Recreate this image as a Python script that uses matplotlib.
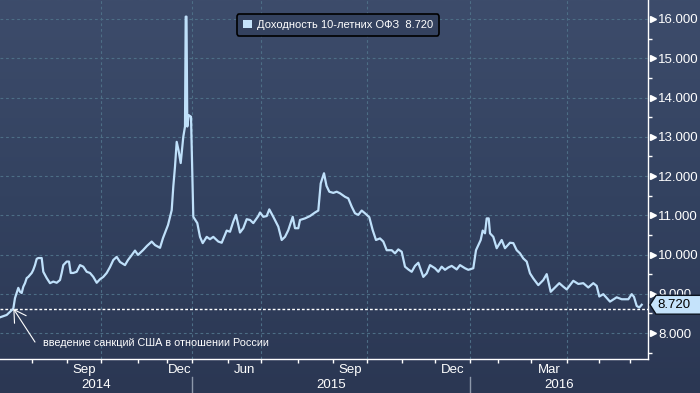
import matplotlib
matplotlib.use('Agg')
import matplotlib.pyplot as plt
import matplotlib.transforms as mtrans
from matplotlib.patches import Polygon, Patch
from matplotlib.colors import LinearSegmentedColormap
import numpy as np

plt.rcParams['font.family'] = ['Liberation Sans', 'DejaVu Sans']

# ---- data (time index along the chart axis, yield in %) ----
t = [0, 6.7, 10, 13.3, 15, 16.7, 18.3, 20, 21.7, 23.3, 25, 26.7, 28.3, 30, 31.7, 33.3, 35, 36.7, 38.3, 41.7,
     43.3, 46.7, 50, 53.3, 56.7, 60, 61.7, 63.3, 66.7, 69, 70.7, 73.3, 76.7, 80, 83.3, 86.7, 90, 93.3, 96.7, 100,
     103.3, 106.7, 110, 113.3, 116.7, 120, 125, 128, 131, 135, 138, 143, 147, 151.7, 155, 160, 163, 168, 171.7, 173.3,
     175, 176.7, 178.5, 180.7, 182, 183.3, 185, 185.7, 186.5, 187.3, 188.7, 191, 193.3, 197.3, 200, 202.7, 206.7, 210, 213.3, 218.3,
     221.7, 226.7, 230, 233.3, 236, 240, 243.3, 246.7, 250, 253.3, 258.3, 260, 263.3, 266.7, 269.3, 273.3, 278.3, 281.7, 285, 288.3,
     292.7, 295, 298.3, 300, 305, 310, 315, 318.3, 320.7, 324, 326.5, 329.3, 333.3, 336.7, 340, 345, 348.3, 351.7, 355, 358.3,
     361.7, 365, 369.3, 372.7, 376, 380, 383.3, 386.7, 391.7, 395, 398.3, 401.7, 405, 408.3, 411.7, 415, 418.3, 423.3, 426.7, 430,
     435, 438.3, 441.7, 445, 448.3, 451.7, 456.7, 460, 465, 468.3, 473.3, 476, 478.3, 480.7, 482.7, 485, 486.7, 488.7, 490, 493.3,
     496.7, 501.7, 505, 510, 513.3, 516.7, 520, 523.3, 526.7, 530, 533.3, 538.3, 543.3, 546.7, 550.7, 555, 559.3, 563.3, 566.7, 573.3,
     578.3, 583.3, 588.3, 593.3, 596.7, 599.3, 603.3, 610, 616.7, 621.7, 628.3, 631.7, 634, 636.7, 639.3, 641.7]
yld = [8.40, 8.46, 8.54, 8.62, 8.89, 9.02, 9.15, 9.05, 9.02, 9.18, 9.27, 9.40, 9.43, 9.48, 9.53, 9.61, 9.73, 9.89, 9.91, 9.91,
       9.56, 9.40, 9.27, 9.31, 9.28, 9.35, 9.53, 9.73, 9.82, 9.82, 9.53, 9.53, 9.56, 9.73, 9.69, 9.56, 9.53, 9.43, 9.28, 9.37,
       9.43, 9.53, 9.68, 9.86, 9.94, 9.81, 9.73, 9.86, 9.96, 10.10, 9.99, 10.11, 10.22, 10.33, 10.24, 10.17, 10.42, 10.75, 11.13, 11.73,
       12.24, 12.87, 12.66, 12.33, 12.66, 13.00, 13.26, 16.06, 16.06, 13.26, 13.55, 13.51, 10.96, 10.80, 10.45, 10.29, 10.45, 10.39, 10.45, 10.33,
       10.30, 10.61, 10.58, 10.84, 11.01, 10.56, 10.67, 10.90, 10.88, 10.80, 10.98, 11.07, 10.96, 10.98, 11.15, 10.96, 10.71, 10.37, 10.45, 10.62,
       10.96, 10.67, 10.67, 10.88, 10.92, 10.98, 11.07, 11.12, 11.81, 12.07, 11.75, 11.60, 11.57, 11.60, 11.56, 11.47, 11.43, 11.22, 11.05, 11.01,
       11.12, 11.05, 10.95, 10.62, 10.37, 10.41, 10.33, 10.11, 10.11, 10.03, 10.13, 10.07, 9.69, 9.62, 9.56, 9.71, 9.79, 9.43, 9.52, 9.73,
       9.65, 9.56, 9.69, 9.61, 9.67, 9.71, 9.62, 9.73, 9.65, 9.61, 9.65, 10.11, 10.24, 10.37, 10.61, 10.54, 10.92, 10.92, 10.54, 10.45,
       10.16, 10.37, 10.16, 10.30, 10.29, 10.11, 10.03, 9.90, 9.82, 9.52, 9.39, 9.22, 9.35, 9.50, 9.05, 9.16, 9.27, 9.18, 9.11, 9.33,
       9.25, 9.27, 9.16, 9.27, 9.20, 8.93, 8.99, 8.80, 8.91, 8.86, 8.86, 8.99, 8.92, 8.69, 8.65, 8.72]

month_ticks = [32, 67, 101, 138, 167, 192, 228, 261, 298, 333, 367, 402, 435, 470, 498, 531, 567, 599, 630]
quarter_grid = [101, 192, 261, 367, 470, 567]
month_labels = ['Sep', 'Dec', 'Jun', 'Sep', 'Dec', 'Mar']
month_label_pos = [84, 179.5, 244.5, 350, 452.5, 549]
year_labels = ['2014', '2015', '2016']
year_label_pos = [96, 331, 559]
year_breaks = [192, 470]
yticks = [8, 9, 10, 11, 12, 13, 14, 15, 16]
yminor = [7.5, 8.5, 9.5, 10.5, 11.5, 12.5, 13.5, 14.5, 15.5]
sanction_t = 13.3
sanction_level = 8.62
last_value = 8.72
series_name = 'Доходность 10-летних ОФЗ'
annotation_text = 'введение санкций США в отношении России'

# ---- style ----
W, H = 700, 393
line_c = '#bfe0fa'
grid_c = '#4d6e86'
box_c = '#c5e3fb'

fig = plt.figure(figsize=(W / 100, H / 100), dpi=100)
bg = fig.add_axes([0, 0, 1, 1], zorder=0)
cmap = LinearSegmentedColormap.from_list('bg', ['#2b3753', '#334260', '#3d4c6b'])
grad = np.linspace(0, 1, 256).reshape(-1, 1)
bg.imshow(grad, aspect='auto', cmap=cmap, extent=[0, 1, 0, 1], origin='lower')
bg.axis('off')

ax = fig.add_axes([0, 34 / H, 648 / W, 359 / H], zorder=1)
ax.patch.set_alpha(0)
ax.set_xlim(0, 648)
ax.set_ylim(7.338, 16.484)

for v in yticks:
    ax.axhline(v, color=grid_c, lw=0.8, ls=(0, (2.5, 2.5)), zorder=1)
for q in quarter_grid:
    ax.axvline(q, color=grid_c, lw=0.8, ls=(0, (2.5, 2.5)), zorder=1)

ax.axhline(sanction_level, color='white', lw=1.0, ls=(0, (2, 1.5)), zorder=2)
ax.plot(t, yld, color=line_c, lw=1.6, zorder=3, solid_joinstyle='round')

# spines
for s in ['top', 'left']:
    ax.spines[s].set_visible(False)
for s in ['right', 'bottom']:
    ax.spines[s].set_color('white')
    ax.spines[s].set_linewidth(1.0)

# y axis on right
ax.yaxis.tick_right()
ax.set_yticks(yticks)
ax.set_yticklabels([f'{v:.3f}' for v in yticks])
ax.set_yticks(yminor, minor=True)
ax.tick_params(axis='y', which='major', length=0, pad=7.5, labelcolor='white', labelsize=9.5)
ax.tick_params(axis='y', which='minor', length=3, width=1, color='white', direction='out')

trans_ay = mtrans.blended_transform_factory(ax.transAxes, ax.transData)
ax.plot([653 / 648] * len(yticks), yticks, marker='>', ls='none', ms=5, color='white',
        transform=trans_ay, clip_on=False, zorder=4)

# x axis
ax.set_xticks(month_ticks)
ax.set_xticklabels([])
ax.tick_params(axis='x', which='major', length=3, width=1, color='white', direction='out')
trans_xa = mtrans.blended_transform_factory(ax.transData, ax.transAxes)
for lab, p in zip(month_labels, month_label_pos):
    ax.text(p, -11 / 359, lab, transform=trans_xa, ha='center', va='center', color='white', fontsize=9.5)
for lab, p in zip(year_labels, year_label_pos):
    ax.text(p, -26 / 359, lab, transform=trans_xa, ha='center', va='center', color='white', fontsize=9.5)
for b in year_breaks:
    ax.plot([b, b], [-18 / 359, -34 / 359], color='#8d98aa', lw=1, transform=trans_xa, clip_on=False)

# last value box on right
hh = 0.24
poly = Polygon([(650 / 648, last_value), (656 / 648, last_value + hh), (710 / 648, last_value + hh),
                (710 / 648, last_value - hh), (656 / 648, last_value - hh)], closed=True,
               facecolor=box_c, edgecolor='#0d1420', lw=1, transform=trans_ay, clip_on=False, zorder=5)
ax.add_patch(poly)
ax.text(657 / 648, last_value, f'{last_value:.3f}', transform=trans_ay, ha='left', va='center',
        color='black', fontsize=9.5, zorder=6, clip_on=False)

# annotation
ax.annotate('', xy=(sanction_t, sanction_level), xytext=(35, 7.77),
            arrowprops=dict(arrowstyle='->,head_length=0.85,head_width=0.5', color='white', lw=0.8,
                            shrinkA=0, shrinkB=0), zorder=4)
ax.text(43, 7.75, annotation_text, ha='left', va='center', color='white', fontsize=7.8, zorder=4)

# legend
leg = ax.legend(handles=[Patch(facecolor=box_c, edgecolor='none')],
                labels=[f'{series_name}  {last_value:.3f}'],
                loc='center', bbox_to_anchor=(338 / 648, 1 - 25 / 359), frameon=True, fancybox=True,
                facecolor='#34425f', edgecolor='black', framealpha=1, fontsize=8,
                handlelength=0.8, handleheight=0.8, handletextpad=0.5, borderpad=0.5, labelcolor='white')
leg.get_frame().set_linewidth(1.2)
leg.set_zorder(7)

fig.savefig('out.png', dpi=100)
